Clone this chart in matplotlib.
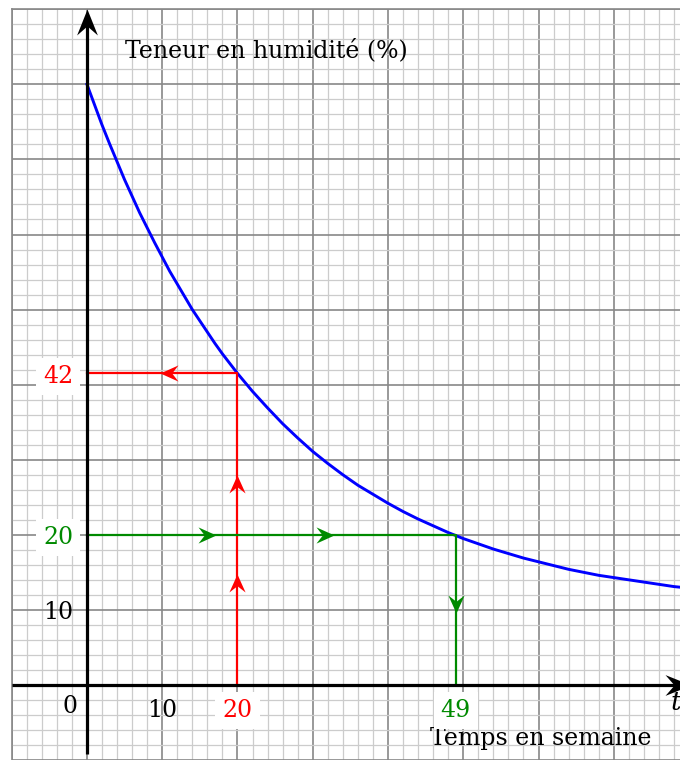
import matplotlib
matplotlib.use('Agg')
import matplotlib.pyplot as plt
import numpy as np

# courbe : temps (semaines) -> teneur en humidité (%)
t_weeks = [0, 1, 2, 3, 4, 5, 6, 7, 8, 9, 10, 11, 12, 13, 14, 15, 16, 17, 18, 19, 20,
           22, 24, 26, 28, 30, 32, 34, 36, 38, 40, 42, 44, 46, 48, 50, 52, 54, 56, 58,
           60, 62, 64, 66, 68, 70, 72, 74, 76, 78, 80]
humidity = [80, 77.3, 74.6, 72.1, 69.7, 67.3, 65.1, 62.9, 60.9, 58.9, 57.0, 55.1, 53.4,
            51.7, 50.0, 48.5, 47.0, 45.5, 44.1, 42.8, 41.5, 39.1, 36.9, 34.8, 32.9, 31.1,
            29.5, 28.0, 26.6, 25.4, 24.2, 23.1, 22.1, 21.2, 20.3, 19.5, 18.8, 18.1, 17.5,
            16.9, 16.4, 15.9, 15.4, 15.0, 14.6, 14.3, 14.0, 13.7, 13.4, 13.1, 12.9]

# lectures graphiques
red_x, red_y, red_label = 20, 41.5, '42'
green_x, green_y, green_label = 49, 20, '20'
red_h_arrows = [9.7]           # flèches vers la gauche (sur y = red_y)
red_v_arrows = [14.8, 28.0]    # flèches vers le haut (sur x = red_x)
green_h_arrows = [17.2, 32.8]  # flèches vers la droite (sur y = green_y)
green_v_arrows = [9.6]         # flèche vers le bas (sur x = green_x)

x_ticks = [10]
y_ticks = [10]

RED = '#ff0000'
GREEN = '#008a00'
BLUE = '#0000ff'
FONT = 'DejaVu Serif'
FS = 17
DY = 0.4  # les chiffres n'ont pas de jambage : on recentre visuellement


def stealth(ax, x, y, angle, color, length_px, width=0.45, z=6):
    # pointe de flèche type "stealth", la pointe est au point (x, y)
    base = np.array([[0, 0], [-1, width], [-0.65, 0], [-1, -width], [0, 0]])
    a = np.deg2rad(angle)
    rot = np.array([[np.cos(a), -np.sin(a)], [np.sin(a), np.cos(a)]])
    verts = base @ rot.T
    verts[np.abs(verts) < 1e-9] = 0
    ax.plot([x], [y], marker=verts, markersize=1.44 * length_px,
            color=color, markeredgewidth=0, linestyle='none', zorder=z)


fig = plt.figure(figsize=(6.8, 7.6), dpi=100)
ax = fig.add_axes([11.7 / 680, 0, 668.3 / 680, 750.7 / 760])
ax.set_xlim(-10, 78.8)
ax.set_ylim(-9.25, 90)

# papier millimétré
ax.set_xticks(np.arange(-10, 80, 10))
ax.set_xticks(np.arange(-10, 80, 2), minor=True)
ax.set_yticks(np.arange(-10, 91, 10))
ax.set_yticks(np.arange(-10, 91, 2), minor=True)
ax.grid(which='minor', color='#cccccc', linewidth=0.9, zorder=0)
ax.grid(which='major', color='#888888', linewidth=1.2, zorder=0)
ax.set_axisbelow(True)
ax.tick_params(which='both', length=0, labelbottom=False, labelleft=False)
for side in ['right', 'bottom']:
    ax.spines[side].set_visible(False)
for side in ['top', 'left']:
    ax.spines[side].set_color('#888888')
    ax.spines[side].set_linewidth(1.2)

# courbe
ax.plot(t_weeks, humidity, color=BLUE, linewidth=2.1, zorder=3)

# lecture en rouge
ax.plot([red_x, red_x, 0], [0, red_y, red_y], color=RED, linewidth=1.6, zorder=4)
for xa in red_h_arrows:
    stealth(ax, xa, red_y, 180, RED, 18)
for ya in red_v_arrows:
    stealth(ax, red_x, ya, 90, RED, 18)

# lecture en vert
ax.plot([0, green_x, green_x], [green_y, green_y, 0], color=GREEN, linewidth=1.6, zorder=4)
for xa in green_h_arrows:
    stealth(ax, xa, green_y, 0, GREEN, 18)
for ya in green_v_arrows:
    stealth(ax, green_x, ya, -90, GREEN, 18)

# axes
ax.plot([-10, 79], [0, 0], color='black', linewidth=2.3, zorder=5, solid_capstyle='butt')
ax.plot([0, 0], [-9.25, 88.5], color='black', linewidth=2.3, zorder=5, solid_capstyle='butt')
stealth(ax, 80.3, 0, 0, 'black', 26, width=0.4, z=7)
stealth(ax, 0, 90, 90, 'black', 26, width=0.4, z=7)

# textes
ax.text(5.0, 85 - DY, 'Teneur en humidité (%)', fontsize=FS, family=FONT, ha='left', va='center')
ax.text(60.3, -6.75 - DY, 'Temps en semaine', fontsize=FS, family=FONT, ha='center', va='center')
ax.text(78.3, -2.4, 't', fontsize=FS + 2, family=FONT, style='italic', ha='center', va='center')
ax.text(-2.2, -2.5 - DY, '0', fontsize=FS, family=FONT, ha='center', va='center')
for v in x_ticks:
    ax.text(v, -3.0 - DY, str(v), fontsize=FS, family=FONT, ha='center', va='center')
for v in y_ticks:
    ax.text(-1.8, v - DY, str(v), fontsize=FS, family=FONT, ha='right', va='center')

box = dict(boxstyle='square,pad=0.3', facecolor='white', edgecolor='none')
ax.text(red_x, -3.0 - DY, str(red_x), fontsize=FS, family=FONT, color=RED,
        ha='center', va='center', bbox=box, zorder=8)
ax.text(-1.8, red_y - DY, red_label, fontsize=FS, family=FONT, color=RED,
        ha='right', va='center', bbox=box, zorder=8)
ax.text(green_x, -3.0 - DY, str(green_x), fontsize=FS, family=FONT, color=GREEN,
        ha='center', va='center', bbox=box, zorder=8)
ax.text(-1.8, green_y - DY, green_label, fontsize=FS, family=FONT, color=GREEN,
        ha='right', va='center', bbox=box, zorder=8)

fig.savefig('out.png', dpi=100)
